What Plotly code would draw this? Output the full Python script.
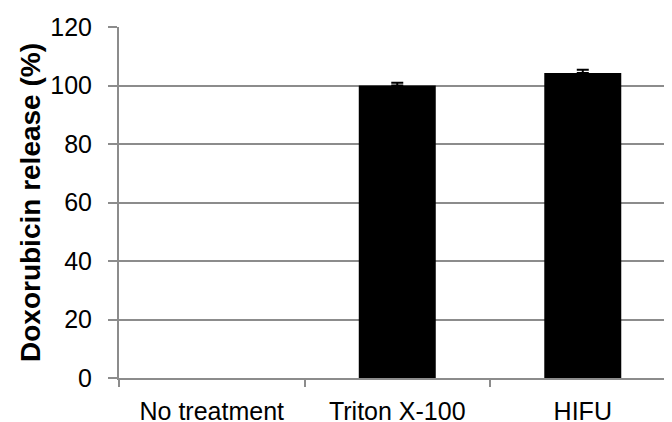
import plotly.graph_objects as go

categories = ["No treatment", "Triton X-100", "HIFU"]
release = [0, 100.0, 104.3]
release_err = [0, 0.9, 1.1]
y_ticks = [0, 20, 40, 60, 80, 100, 120]

# Only treated groups show an error bar
err_cats = [c for c, e in zip(categories, release_err) if e > 0]
err_vals = [v for v, e in zip(release, release_err) if e > 0]
err_sizes = [e for e in release_err if e > 0]

# The page body has a default 8px margin, so the figure is sized to end at the window edge.
fig = go.Figure()
fig.add_trace(go.Bar(
    x=categories,
    y=release,
    width=0.415,
    marker=dict(color="black", line=dict(width=0)),
))
fig.add_trace(go.Scatter(
    x=err_cats,
    y=err_vals,
    mode="markers",
    marker=dict(size=1, opacity=0),
    error_y=dict(type="data", array=err_sizes, arrayminus=[0] * len(err_sizes),
                 symmetric=False, visible=True,
                 color="black", thickness=2, width=6),
    hoverinfo="skip",
))

fig.update_layout(
    width=664, height=414,
    margin=dict(l=111, r=0, t=19, b=44, autoexpand=False),
    plot_bgcolor="white", paper_bgcolor="white",
    font=dict(family="Liberation Sans, Arial, sans-serif", size=25, color="black"),
    showlegend=False,
)
fig.update_xaxes(
    range=[-0.5, 2.481],
    tickson="boundaries",
    ticks="outside", ticklen=7, tickcolor="#8c8c8c", tickwidth=2,
    showline=True, linecolor="#8c8c8c", linewidth=2,
    showgrid=False, automargin=False,
    tickfont=dict(size=25),
    ticklabelstandoff=10,
)
fig.update_yaxes(
    range=[0, 120],
    tickvals=y_ticks,
    ticks="outside", ticklen=9, tickcolor="#8c8c8c", tickwidth=2,
    showline=True, linecolor="#8c8c8c", linewidth=2,
    showgrid=True, gridcolor="#8c8c8c", gridwidth=2,
    zeroline=False, automargin=False,
    tickfont=dict(size=25),
    ticklabelstandoff=11,
    title=dict(text="<b>Doxorubicin release (%)</b>", font=dict(size=28), standoff=1),
)

fig.write_html("out.html")
